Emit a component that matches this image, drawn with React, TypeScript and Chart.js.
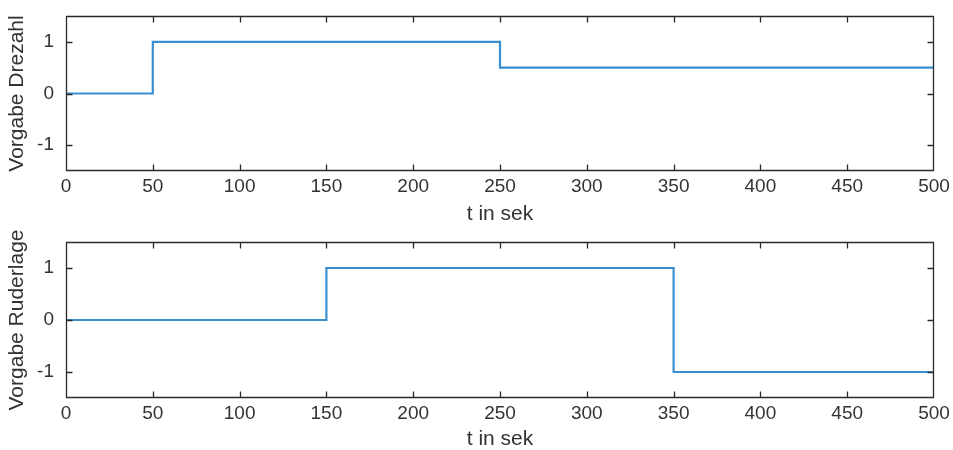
import React, { useEffect, useRef } from "react";
import { Chart, registerables } from "chart.js";

Chart.register(...registerables);

const topX = [0, 50, 250, 500];
const topY = [0, 1, 0.5, 0.5];
const bottomX = [0, 150, 350, 500];
const bottomY = [0, 1, -1, -1];
const xTickValues = [0, 50, 100, 150, 200, 250, 300, 350, 400, 450, 500];
const yTickValues = [-1, 0, 1];
const topYLabel = "Vorgabe Drezahl";
const bottomYLabel = "Vorgabe Ruderlage";
const xLabel = "t in sek";

const FONT = "'Liberation Sans', Arial, sans-serif";
const TEXT = "#333333";
const LINE = "#3a8fd0";

const framePlugin = {
  id: "frame",
  afterDatasetsDraw(chart: any) {
    const { ctx, chartArea } = chart;
    const xs = chart.scales.x;
    const ys = chart.scales.y;
    const L = Math.round(chartArea.left) + 0.5;
    const R = Math.round(chartArea.right) - 0.5;
    const T = Math.round(chartArea.top) + 0.5;
    const B = Math.round(chartArea.bottom) - 0.5;
    ctx.save();
    ctx.strokeStyle = "#2a2a2a";
    ctx.lineWidth = 1.3;
    ctx.beginPath();
    ctx.rect(L, T, R - L, B - T);
    const tl = 6;
    xTickValues.forEach((v) => {
      const px = Math.min(R, Math.max(L, Math.round(xs.getPixelForValue(v)) + 0.5));
      ctx.moveTo(px, B);
      ctx.lineTo(px, B - tl);
      ctx.moveTo(px, T);
      ctx.lineTo(px, T + tl);
    });
    yTickValues.forEach((v) => {
      const py = Math.min(B, Math.max(T, Math.round(ys.getPixelForValue(v)) + 0.5));
      ctx.moveTo(L, py);
      ctx.lineTo(L + tl, py);
      ctx.moveTo(R, py);
      ctx.lineTo(R - tl, py);
    });
    ctx.stroke();
    ctx.restore();
  },
};

function makeConfig(xs: number[], ys: number[], yTitle: string, topPad: number, bottomAxisH: number, xTitlePad: number) {
  return {
    type: "line" as const,
    data: {
      datasets: [
        {
          data: xs.map((x, i) => ({ x, y: ys[i] })),
          stepped: "before" as const,
          borderColor: LINE,
          borderWidth: 2.2,
          pointRadius: 0,
          fill: false,
        },
      ],
    },
    options: {
      animation: false as const,
      responsive: false,
      maintainAspectRatio: false,
      layout: { padding: { top: topPad, right: 19, left: 0, bottom: 0 } },
      plugins: { legend: { display: false }, tooltip: { enabled: false } },
      scales: {
        x: {
          type: "linear" as const,
          min: 0,
          max: 500,
          afterBuildTicks: (s: any) => {
            s.ticks = xTickValues.map((v) => ({ value: v }));
          },
          afterFit: (s: any) => {
            s.height = bottomAxisH;
            s.paddingLeft = 0;
            s.paddingRight = 0;
          },
          grid: { display: false, drawTicks: false },
          border: { display: false },
          ticks: { color: TEXT, font: { family: FONT, size: 19, lineHeight: 1 }, padding: 6, maxRotation: 0, autoSkip: false },
          title: { display: true, text: xLabel, color: TEXT, font: { family: FONT, size: 21, lineHeight: 1 }, padding: { top: 0, bottom: xTitlePad } },
        },
        y: {
          type: "linear" as const,
          min: -1.5,
          max: 1.5,
          afterBuildTicks: (s: any) => {
            s.ticks = yTickValues.map((v) => ({ value: v }));
          },
          afterFit: (s: any) => {
            s.width = 66;
            s.paddingTop = 0;
            s.paddingBottom = 0;
          },
          grid: { display: false, drawTicks: false },
          border: { display: false },
          ticks: { color: TEXT, font: { family: FONT, size: 19, lineHeight: 1 }, padding: 12 },
          title: { display: true, text: yTitle, color: TEXT, font: { family: FONT, size: 21, lineHeight: 1 }, padding: { top: 7, bottom: 0 } },
        },
      },
    },
    plugins: [framePlugin],
  };
}

function Panel({ xs, ys, title, top, topPad, axisH, xTitlePad }: any) {
  const ref = useRef<HTMLCanvasElement>(null);
  useEffect(() => {
    const chart = new Chart(ref.current as HTMLCanvasElement, makeConfig(xs, ys, title, topPad, axisH, xTitlePad) as any);
    return () => chart.destroy();
  }, []);
  return (
    <canvas
      ref={ref}
      width={953}
      height={225}
      style={{ position: "absolute", left: 0, top, width: 953, height: 225 }}
    />
  );
}

export default function App() {
  return (
    <div style={{ position: "fixed", left: 0, top: 0, width: 953, height: 450, background: "#fff" }}>
      <Panel xs={topX} ys={topY} title={topYLabel} top={0} topPad={16} axisH={54} xTitlePad={0} />
      <Panel xs={bottomX} ys={bottomY} title={bottomYLabel} top={225} topPad={17} axisH={52} xTitlePad={0} />
    </div>
  );
}
